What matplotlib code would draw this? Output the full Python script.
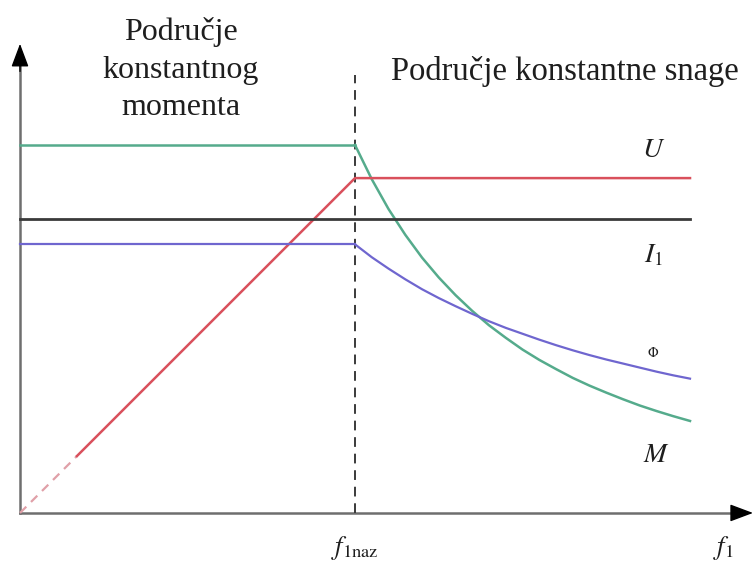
import matplotlib.pyplot as plt

plt.rcParams['font.family'] = ['Liberation Serif', 'DejaVu Serif']
plt.rcParams['mathtext.fontset'] = 'stix'

# frequency axis: f/f1naz
f_nom = 1.0
f_end = 2.0
f_weak = [1.0, 1.05, 1.1, 1.15, 1.2, 1.25, 1.3, 1.35, 1.4, 1.45, 1.5,
          1.55, 1.6, 1.65, 1.7, 1.75, 1.8, 1.85, 1.9, 1.95, 2.0]

# relative levels
U_max = 0.91
I_level = 0.80
M_const = 1.0
phi_const = 0.73
U_dash_end = 0.17

M_weak = [1.0, 0.907, 0.826, 0.756, 0.694, 0.640, 0.592, 0.549, 0.510, 0.476, 0.444,
          0.416, 0.391, 0.367, 0.346, 0.327, 0.309, 0.292, 0.277, 0.263, 0.250]
phi_weak = [0.730, 0.695, 0.664, 0.635, 0.608, 0.584, 0.562, 0.541, 0.521, 0.503, 0.487,
            0.471, 0.456, 0.442, 0.429, 0.417, 0.406, 0.395, 0.384, 0.374, 0.365]

green = '#55ab8c'
red = '#d9505c'
blue = '#6f66cf'
dark = '#3a3a3a'
axis_col = '#6e6e6e'
text_col = '#1e1e1e'


def draw(ax):
    # axes with arrows
    ax.plot([0, 2.15], [0, 0], color=axis_col, lw=1.8, clip_on=False)
    ax.plot([0, 0], [0, 1.23], color=axis_col, lw=1.8, clip_on=False)
    ax.annotate('', xy=(2.188, 0), xytext=(2.13, 0), annotation_clip=False,
                arrowprops=dict(arrowstyle='-|>,head_length=0.8,head_width=0.3',
                                lw=1, mutation_scale=18, shrinkA=0, shrinkB=0,
                                color='black'))
    ax.annotate('', xy=(0, 1.275), xytext=(0, 1.2), annotation_clip=False,
                arrowprops=dict(arrowstyle='-|>,head_length=0.8,head_width=0.3',
                                lw=1, mutation_scale=18, shrinkA=0, shrinkB=0,
                                color='black'))

    # nominal frequency line
    ax.plot([f_nom, f_nom], [0, 1.19], color=dark, lw=1.4, ls=(0, (5, 3.5)))

    # M
    ax.plot([0, f_nom], [M_const, M_const], color=green, lw=1.8)
    ax.plot(f_weak, M_weak, color=green, lw=1.8)
    # U
    ax.plot([0, U_dash_end], [0, U_dash_end * U_max / f_nom], color='#e0a0a8',
            lw=1.6, ls=(0, (4, 3)))
    ax.plot([U_dash_end, f_nom, f_end], [U_dash_end * U_max / f_nom, U_max, U_max],
            color=red, lw=1.8)
    # I1
    ax.plot([0, f_end], [I_level, I_level], color=dark, lw=2.0)
    # Phi
    ax.plot([0, f_nom], [phi_const, phi_const], color=blue, lw=1.6)
    ax.plot(f_weak, phi_weak, color=blue, lw=1.6)

    # labels
    ax.text(0.48, 1.347, 'Područje\nkonstantnog\nmomenta', ha='center', va='top',
            fontsize=23, linespacing=1.38, color=text_col)
    ax.text(1.625, 1.2, 'Područje konstantne snage', ha='center', va='center',
            fontsize=23.5, color=text_col)
    ax.text(1.89, 0.985, r'$U$', fontsize=20, ha='center', va='center', color=text_col)
    ax.text(1.89, 0.70, r'$I_1$', fontsize=20, ha='center', va='center', color=text_col)
    ax.text(1.89, 0.435, r'$\Phi$', fontsize=10, ha='center', va='center', color=text_col)
    ax.text(1.90, 0.155, r'$M$', fontsize=20, ha='center', va='center', color=text_col)
    ax.text(f_nom, -0.095, r'$f_{\mathrm{1naz}}$', fontsize=19, ha='center',
            va='center', color=text_col)
    ax.text(2.1, -0.095, r'$f_{\mathrm{1}}$', fontsize=19, ha='center',
            va='center', color=text_col)


def main():
    fig = plt.figure(figsize=(7.53, 5.63), dpi=100)
    ax = fig.add_axes([0, 0, 1, 1])
    draw(ax)
    ax.set_xlim(-0.0597, 2.188)
    ax.set_ylim(-0.136, 1.394)
    ax.axis('off')
    fig.savefig('out.png', dpi=100)


if __name__ == '__main__':
    main()
